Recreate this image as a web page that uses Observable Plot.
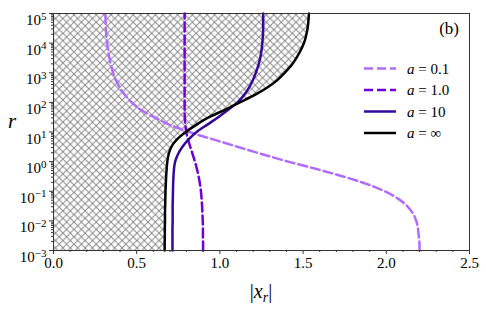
<!DOCTYPE html>
<html><head><meta charset="utf-8">
<script src="https://cdn.jsdelivr.net/npm/d3@7"></script>
<script src="https://cdn.jsdelivr.net/npm/@observablehq/plot@0.6"></script>
<style>body{margin:0;background:#fff} svg{display:block}</style>
</head><body><div id="chart"></div>
<script>
// log10(r) grid shared by all series
const logR = [-3,-2.75,-2.5,-2.25,-2,-1.75,-1.5,-1.25,-1,-0.75,-0.5,-0.25,0,0.25,0.5,0.75,1,1.25,1.5,1.75,2,2.25,2.5,2.75,3,3.25,3.5,3.75,4,4.25,4.5,4.75,5];
// |x_r| for each series
const xA01 = [2.2,2.199,2.195,2.19,2.18,2.16,2.125,2.07,1.99,1.88,1.74,1.58,1.41,1.255,1.105,0.96,0.815,0.695,0.605,0.525,0.47,0.43,0.398,0.375,0.358,0.346,0.336,0.328,0.322,0.318,0.315,0.313,0.312];
const xA1 = [0.899,0.899,0.898,0.898,0.897,0.895,0.893,0.89,0.886,0.88,0.872,0.862,0.85,0.836,0.822,0.808,0.798,0.792,0.789,0.788,0.788,0.788,0.788,0.788,0.788,0.788,0.788,0.788,0.788,0.788,0.788,0.788,0.788];
const xA10 = [0.715,0.715,0.715,0.715,0.716,0.716,0.716,0.717,0.718,0.719,0.721,0.724,0.731,0.748,0.775,0.812,0.86,0.925,0.99,1.05,1.105,1.145,1.175,1.198,1.216,1.231,1.242,1.25,1.255,1.258,1.26,1.26,1.26];
const xAInf = [0.668,0.668,0.669,0.669,0.670,0.670,0.671,0.672,0.673,0.675,0.677,0.680,0.684,0.692,0.708,0.742,0.795,0.86,0.935,1.03,1.12,1.21,1.285,1.345,1.39,1.43,1.46,1.485,1.505,1.518,1.527,1.532,1.535];

const seriesValues = [xA01, xA1, xA10, xAInf];
const seriesLabels = ["0.1", "1.0", "10", "∞"];
const seriesColors = ["#b06cff", "#7100d8", "#35089c", "#000000"];
const seriesDash = ["9,4", "9,4", null, null];

const xTicks = [0, 0.5, 1, 1.5, 2, 2.5];
const yTickExp = [-3,-2,-1,0,1,2,3,4,5];

const rows = [];
seriesValues.forEach((xs, s) => xs.forEach((x, i) => rows.push({series: s, x, r: Math.pow(10, logR[i])})));

const xMinor = d3.range(1, 25).map(i => i / 10).filter(v => Math.abs(v * 2 - Math.round(v * 2)) > 1e-9);
const yMajor = yTickExp.map(e => Math.pow(10, e));
const yMinor = [];
for (let e = -3; e < 5; e++) for (let m = 2; m <= 9; m++) yMinor.push(m * Math.pow(10, e));

const lineMarks = seriesValues.map((_, s) => Plot.line(rows.filter(d => d.series === s), {
  x: "x", y: "r", curve: "monotone-y", stroke: seriesColors[s], strokeWidth: 2.5,
  strokeDasharray: seriesDash[s] || undefined
}));

const svg = Plot.plot({
  width: 486, height: 312,
  marginLeft: 53, marginRight: 17, marginTop: 13, marginBottom: 62,
  style: {fontFamily: "'Liberation Serif', 'DejaVu Serif', serif", fontSize: "15px", color: "#000", background: "#fff"},
  x: {domain: [0, 2.5]},
  y: {type: "log", domain: [1e-3, 1e5]},
  marks: [
    Plot.areaX(rows.filter(d => d.series === 3), {x: "x", y: "r", curve: "monotone-y", fill: "url(#hatch)"}),
    ...lineMarks,
    Plot.frame({stroke: "#333", strokeWidth: 1}),
    Plot.axisX({ticks: xTicks, tickSize: 4, tickPadding: 3, tickFormat: d3.format(".1f"), label: null, stroke: "#333"}),
    Plot.axisX({ticks: xMinor, tickSize: 2, tickFormat: () => "", label: null, stroke: "#333"}),
    Plot.axisY({ticks: yMajor, tickSize: 4, tickPadding: 3, tickFormat: d => "10^" + Math.round(Math.log10(d)), label: null, stroke: "#333"}),
    Plot.axisY({ticks: yMinor, tickSize: 2, tickFormat: () => "", label: null, stroke: "#333"})
  ]
});

const s = d3.select(svg);
s.insert("defs", ":first-child").html(
  '<pattern id="hatch" patternUnits="userSpaceOnUse" width="7.4" height="7.4">' +
  '<path d="M0,0L7.4,7.4M7.4,0L0,7.4" stroke="#8a8a8a" stroke-width="1" fill="none"/></pattern>');

// superscript exponents on y tick labels
s.selectAll('g[aria-label="y-axis tick label"] text').each(function () {
  const t = this.textContent;
  if (t.includes("^")) {
    const [b, e] = t.split("^");
    this.textContent = "";
    const el = d3.select(this);
    el.attr("dy", "0.45em");
    el.append("tspan").text(b);
    el.append("tspan").attr("dy", "-0.5em").attr("font-size", "11px").text(e.replace("-", "−"));
  }
});

const font = "'Liberation Serif', 'DejaVu Serif', serif";
// axis labels
s.append("text").attr("x", 12).attr("y", 128).attr("text-anchor", "middle")
  .attr("font-family", font).attr("font-size", 21).attr("font-style", "italic").text("r");
const xl = s.append("text").attr("x", 261).attr("y", 298).attr("text-anchor", "middle")
  .attr("font-family", font).attr("font-size", 20);
xl.append("tspan").text("|");
xl.append("tspan").attr("font-style", "italic").text("x");
xl.append("tspan").attr("font-style", "italic").attr("font-size", 14).attr("dy", 4).text("r");
xl.append("tspan").attr("dy", -4).text("|");

// panel tag
s.append("text").attr("x", 459).attr("y", 34).attr("text-anchor", "end")
  .attr("font-family", font).attr("font-size", 17).text("(b)");

// legend
const lg = s.append("g");
seriesLabels.forEach((lab, i) => {
  const y = 68.5 + i * 21.5;
  lg.append("line").attr("x1", 364).attr("x2", 396).attr("y1", y).attr("y2", y)
    .attr("stroke", seriesColors[i]).attr("stroke-width", 2.5)
    .attr("stroke-dasharray", seriesDash[i] || null);
  const t = lg.append("text").attr("x", 407).attr("y", y + 5).attr("text-anchor", "start")
    .attr("font-family", font).attr("font-size", 15);
  t.append("tspan").attr("font-style", "italic").text("a");
  t.append("tspan").text(" = " + lab);
});

document.getElementById("chart").appendChild(svg);
</script>
</body></html>
